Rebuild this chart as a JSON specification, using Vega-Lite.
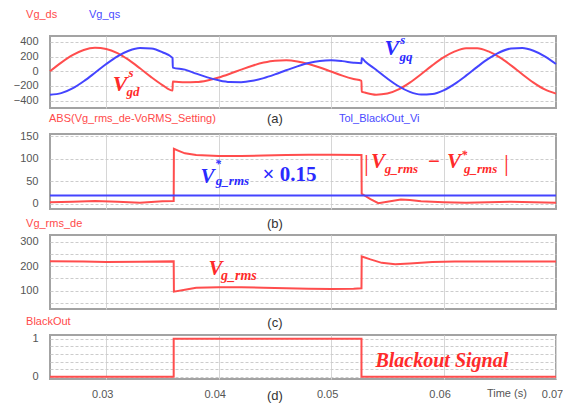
{
  "$schema": "https://vega.github.io/schema/vega-lite/v6.json",
  "background": "white",
  "padding": {"left": 12, "top": 7, "right": 5, "bottom": 5},
  "bounds": "flush",
  "spacing": 26,
  "config": {
    "view": {"stroke": "#a3a3a3", "strokeWidth": 2},
    "axis": {"labelFont": "Liberation Sans", "labelFontSize": 11, "labelColor": "#555555", "ticks": false, "domain": false},
    "axisX": {"gridColor": "#d6d6d6", "gridWidth": 1},
    "axisY": {"gridColor": "#cccccc", "gridDash": [3, 2], "gridWidth": 1, "labelPadding": 12}
  },
  "datasets": {
    "a": [
      {"t": 0.025, "ds": 0, "qs": -320}, {"t": 0.026, "ds": 118, "qs": -298}, {"t": 0.027, "ds": 219, "qs": -233},
      {"t": 0.028, "ds": 290, "qs": -136}, {"t": 0.029, "ds": 319, "qs": -20}, {"t": 0.030, "ds": 304, "qs": 99},
      {"t": 0.031, "ds": 247, "qs": 204}, {"t": 0.032, "ds": 154, "qs": 280}, {"t": 0.033, "ds": 40, "qs": 317},
      {"t": 0.034, "ds": -80, "qs": 310}, {"t": 0.035, "ds": -188, "qs": 259}, {"t": 0.0359, "ds": -263, "qs": 182},
      {"t": 0.03592, "ds": -140, "qs": 50}, {"t": 0.037, "ds": -150, "qs": 22}, {"t": 0.038, "ds": -147, "qs": -32},
      {"t": 0.039, "ds": -125, "qs": -83}, {"t": 0.040, "ds": -85, "qs": -123}, {"t": 0.041, "ds": -34, "qs": -146},
      {"t": 0.042, "ds": 22, "qs": -148}, {"t": 0.043, "ds": 75, "qs": -130}, {"t": 0.044, "ds": 118, "qs": -93},
      {"t": 0.045, "ds": 144, "qs": -43}, {"t": 0.046, "ds": 149, "qs": 13}, {"t": 0.047, "ds": 134, "qs": 67},
      {"t": 0.048, "ds": 100, "qs": 112}, {"t": 0.049, "ds": 52, "qs": 141}, {"t": 0.050, "ds": -4, "qs": 150},
      {"t": 0.051, "ds": -59, "qs": 138}, {"t": 0.052, "ds": -105, "qs": 116}, {"t": 0.0527, "ds": -130, "qs": 108},
      {"t": 0.05272, "ds": -278, "qs": 178}, {"t": 0.053, "ds": -290, "qs": 136}, {"t": 0.054, "ds": -319, "qs": 20},
      {"t": 0.055, "ds": -304, "qs": -99}, {"t": 0.056, "ds": -247, "qs": -204}, {"t": 0.057, "ds": -154, "qs": -280},
      {"t": 0.058, "ds": -40, "qs": -317}, {"t": 0.059, "ds": 80, "qs": -310}, {"t": 0.060, "ds": 188, "qs": -259},
      {"t": 0.061, "ds": 270, "qs": -171}, {"t": 0.062, "ds": 314, "qs": -60}, {"t": 0.063, "ds": 314, "qs": 60},
      {"t": 0.064, "ds": 270, "qs": 171}, {"t": 0.065, "ds": 188, "qs": 259}, {"t": 0.066, "ds": 80, "qs": 310},
      {"t": 0.067, "ds": -40, "qs": 317}, {"t": 0.068, "ds": -154, "qs": 280}, {"t": 0.069, "ds": -247, "qs": 204},
      {"t": 0.070, "ds": -304, "qs": 99}
    ],
    "b": [
      {"t": 0.025, "v": 3}, {"t": 0.027, "v": 4}, {"t": 0.029, "v": 6}, {"t": 0.031, "v": 4}, {"t": 0.033, "v": 2},
      {"t": 0.035, "v": 5}, {"t": 0.036, "v": 6}, {"t": 0.03602, "v": 122}, {"t": 0.0365, "v": 117}, {"t": 0.037, "v": 112},
      {"t": 0.038, "v": 108}, {"t": 0.040, "v": 106}, {"t": 0.042, "v": 106}, {"t": 0.044, "v": 107}, {"t": 0.046, "v": 108},
      {"t": 0.048, "v": 109}, {"t": 0.050, "v": 109}, {"t": 0.0527, "v": 108}, {"t": 0.05272, "v": 22}, {"t": 0.0535, "v": 10},
      {"t": 0.0542, "v": 1}, {"t": 0.055, "v": 4}, {"t": 0.0562, "v": 9}, {"t": 0.057, "v": 8}, {"t": 0.058, "v": 5},
      {"t": 0.060, "v": 3}, {"t": 0.062, "v": 2}, {"t": 0.064, "v": 3}, {"t": 0.066, "v": 4}, {"t": 0.068, "v": 3}, {"t": 0.070, "v": 2}
    ],
    "c": [
      {"t": 0.025, "v": 221}, {"t": 0.028, "v": 219}, {"t": 0.030, "v": 217}, {"t": 0.033, "v": 218}, {"t": 0.036, "v": 220},
      {"t": 0.03602, "v": 96}, {"t": 0.037, "v": 104}, {"t": 0.038, "v": 112}, {"t": 0.040, "v": 114}, {"t": 0.042, "v": 114},
      {"t": 0.044, "v": 112}, {"t": 0.046, "v": 110}, {"t": 0.048, "v": 108}, {"t": 0.050, "v": 107}, {"t": 0.052, "v": 108},
      {"t": 0.0527, "v": 110}, {"t": 0.05272, "v": 240}, {"t": 0.0535, "v": 228}, {"t": 0.0545, "v": 214}, {"t": 0.0557, "v": 208},
      {"t": 0.057, "v": 211}, {"t": 0.059, "v": 217}, {"t": 0.061, "v": 220}, {"t": 0.064, "v": 220}, {"t": 0.067, "v": 219}, {"t": 0.070, "v": 220}
    ],
    "d": [
      {"t": 0.025, "v": 0}, {"t": 0.036, "v": 1}, {"t": 0.0527, "v": 0}, {"t": 0.070, "v": 0}
    ]
  },
  "vconcat": [
    {
      "width": 506, "height": 72,
      "data": {"name": "a"},
      "layer": [
        {
          "mark": {"type": "line", "color": "#ff4d4d", "strokeWidth": 2, "interpolate": "monotone"},
          "encoding": {
            "x": {"field": "t", "type": "quantitative", "title": null, "scale": {"domain": [0.025, 0.07], "nice": false, "zero": false},
                  "axis": {"labels": false, "grid": true, "values": [0.03, 0.04, 0.05, 0.06], "tickCount": 20, "title": null}},
            "y": {"field": "ds", "type": "quantitative", "title": null, "scale": {"domain": [-500, 480], "nice": false, "zero": false},
                  "axis": {"values": [-400, -200, 0, 200, 400], "tickCount": 20, "format": "d", "labelOverlap": false, "grid": true, "title": null}}
          }
        },
        {
          "mark": {"type": "line", "color": "#4444ff", "strokeWidth": 2, "interpolate": "monotone"},
          "encoding": {
            "x": {"field": "t", "type": "quantitative", "title": null},
            "y": {"field": "qs", "type": "quantitative", "title": null}
          }
        },
        {"data": {"values": [{"label": "Vg_ds"}]}, "mark": {"type": "text", "align": "left", "baseline": "middle", "font": "Liberation Sans", "fontSize": 11, "color": "#ff4a4a"},
         "encoding": {"x": {"datum": 0.02287}, "y": {"datum": 766}, "text": {"field": "label"}}},
        {"data": {"values": [{"label": "Vg_qs"}]}, "mark": {"type": "text", "align": "left", "baseline": "middle", "font": "Liberation Sans", "fontSize": 11, "color": "#4a4aff"},
         "encoding": {"x": {"datum": 0.02847}, "y": {"datum": 766}, "text": {"field": "label"}}},
        {"data": {"values": [{"label": "V"}]}, "mark": {"type": "text", "align": "center", "baseline": "middle", "font": "Liberation Serif", "fontSize": 22, "fontStyle": "italic", "fontWeight": "bold", "color": "#ff2a2a"},
         "encoding": {"x": {"datum": 0.03123}, "y": {"datum": -173}, "text": {"field": "label"}}},
        {"data": {"values": [{"label": "s"}]}, "mark": {"type": "text", "align": "center", "baseline": "middle", "font": "Liberation Serif", "fontSize": 13, "fontStyle": "italic", "fontWeight": "bold", "color": "#ff2a2a"},
         "encoding": {"x": {"datum": 0.0322}, "y": {"datum": -24}, "text": {"field": "label"}}},
        {"data": {"values": [{"label": "gd"}]}, "mark": {"type": "text", "align": "center", "baseline": "middle", "font": "Liberation Serif", "fontSize": 13, "fontStyle": "italic", "fontWeight": "bold", "color": "#ff2a2a"},
         "encoding": {"x": {"datum": 0.03238}, "y": {"datum": -282}, "text": {"field": "label"}}},
        {"data": {"values": [{"label": "V"}]}, "mark": {"type": "text", "align": "center", "baseline": "middle", "font": "Liberation Serif", "fontSize": 22, "fontStyle": "italic", "fontWeight": "bold", "color": "#2a2aff"},
         "encoding": {"x": {"datum": 0.05541}, "y": {"datum": 317}, "text": {"field": "label"}}},
        {"data": {"values": [{"label": "s"}]}, "mark": {"type": "text", "align": "center", "baseline": "middle", "font": "Liberation Serif", "fontSize": 13, "fontStyle": "italic", "fontWeight": "bold", "color": "#2a2aff"},
         "encoding": {"x": {"datum": 0.05638}, "y": {"datum": 426}, "text": {"field": "label"}}},
        {"data": {"values": [{"label": "gq"}]}, "mark": {"type": "text", "align": "center", "baseline": "middle", "font": "Liberation Serif", "fontSize": 13, "fontStyle": "italic", "fontWeight": "bold", "color": "#2a2aff"},
         "encoding": {"x": {"datum": 0.05665}, "y": {"datum": 194}, "text": {"field": "label"}}}
      ]
    },
    {
      "width": 506, "height": 75,
      "data": {"name": "b"},
      "layer": [
        {
          "mark": {"type": "line", "color": "#ff4d4d", "strokeWidth": 2},
          "encoding": {
            "x": {"field": "t", "type": "quantitative", "title": null, "scale": {"domain": [0.025, 0.07], "nice": false, "zero": false},
                  "axis": {"labels": false, "grid": true, "values": [0.03, 0.04, 0.05, 0.06], "tickCount": 20, "title": null}},
            "y": {"field": "v", "type": "quantitative", "title": null, "scale": {"domain": [-12, 155], "nice": false, "zero": false},
                  "axis": {"values": [0, 50, 100, 150], "tickCount": 20, "format": "d", "labelOverlap": false, "grid": true, "title": null}}
          }
        },
        {"data": {"values": [{"tol": 18}]}, "mark": {"type": "rule", "color": "#4444ff", "strokeWidth": 2},
         "encoding": {"y": {"field": "tol", "type": "quantitative", "title": null}}},
        {"data": {"values": [{"label": "ABS(Vg_rms_de-VoRMS_Setting)"}]}, "mark": {"type": "text", "align": "left", "baseline": "middle", "font": "Liberation Sans", "fontSize": 11, "color": "#ff4a4a"},
         "encoding": {"x": {"datum": 0.02491}, "y": {"datum": 188.4}, "text": {"field": "label"}}},
        {"data": {"values": [{"label": "(a)"}]}, "mark": {"type": "text", "align": "center", "baseline": "middle", "font": "Liberation Sans", "fontSize": 13, "color": "#333333"},
         "encoding": {"x": {"datum": 0.04500}, "y": {"datum": 188.4}, "text": {"field": "label"}}},
        {"data": {"values": [{"label": "Tol_BlackOut_Vi"}]}, "mark": {"type": "text", "align": "left", "baseline": "middle", "font": "Liberation Sans", "fontSize": 11, "color": "#4a4aff"},
         "encoding": {"x": {"datum": 0.0507}, "y": {"datum": 188.4}, "text": {"field": "label"}}},
        {"data": {"values": [{"label": "V"}]}, "mark": {"type": "text", "align": "center", "baseline": "middle", "font": "Liberation Serif", "fontSize": 21, "fontStyle": "italic", "fontWeight": "bold", "color": "#2a2aff"},
         "encoding": {"x": {"datum": 0.03900}, "y": {"datum": 59}, "text": {"field": "label"}}},
        {"data": {"values": [{"label": "*"}]}, "mark": {"type": "text", "align": "center", "baseline": "middle", "font": "Liberation Serif", "fontSize": 12, "fontStyle": "italic", "fontWeight": "bold", "color": "#2a2aff"},
         "encoding": {"x": {"datum": 0.03995}, "y": {"datum": 88}, "text": {"field": "label"}}},
        {"data": {"values": [{"label": "g_rms"}]}, "mark": {"type": "text", "align": "left", "baseline": "middle", "font": "Liberation Serif", "fontSize": 13, "fontStyle": "italic", "fontWeight": "bold", "color": "#2a2aff"},
         "encoding": {"x": {"datum": 0.03975}, "y": {"datum": 50}, "text": {"field": "label"}}},
        {"data": {"values": [{"label": "× 0.15"}]}, "mark": {"type": "text", "align": "center", "baseline": "middle", "font": "Liberation Serif", "fontSize": 21, "fontWeight": "bold", "color": "#2a2aff"},
         "encoding": {"x": {"datum": 0.04630}, "y": {"datum": 64}, "text": {"field": "label"}}},
        {"data": {"values": [{"label": "|"}]}, "mark": {"type": "text", "align": "center", "baseline": "middle", "font": "Liberation Serif", "fontSize": 24, "color": "#ff2a2a"},
         "encoding": {"x": {"datum": 0.05314}, "y": {"datum": 88}, "text": {"field": "label"}}},
        {"data": {"values": [{"label": "V"}]}, "mark": {"type": "text", "align": "center", "baseline": "middle", "font": "Liberation Serif", "fontSize": 21, "fontStyle": "italic", "fontWeight": "bold", "color": "#ff2a2a"},
         "encoding": {"x": {"datum": 0.05416}, "y": {"datum": 92}, "text": {"field": "label"}}},
        {"data": {"values": [{"label": "g_rms"}]}, "mark": {"type": "text", "align": "left", "baseline": "middle", "font": "Liberation Serif", "fontSize": 13, "fontStyle": "italic", "fontWeight": "bold", "color": "#ff2a2a"},
         "encoding": {"x": {"datum": 0.05478}, "y": {"datum": 77}, "text": {"field": "label"}}},
        {"data": {"values": [{"label": "−"}]}, "mark": {"type": "text", "align": "center", "baseline": "middle", "font": "Liberation Serif", "fontSize": 21, "fontWeight": "bold", "color": "#ff2a2a"},
         "encoding": {"x": {"datum": 0.05914}, "y": {"datum": 92}, "text": {"field": "label"}}},
        {"data": {"values": [{"label": "V"}]}, "mark": {"type": "text", "align": "center", "baseline": "middle", "font": "Liberation Serif", "fontSize": 21, "fontStyle": "italic", "fontWeight": "bold", "color": "#ff2a2a"},
         "encoding": {"x": {"datum": 0.06093}, "y": {"datum": 92}, "text": {"field": "label"}}},
        {"data": {"values": [{"label": "*"}]}, "mark": {"type": "text", "align": "center", "baseline": "middle", "font": "Liberation Serif", "fontSize": 12, "fontStyle": "italic", "fontWeight": "bold", "color": "#ff2a2a"},
         "encoding": {"x": {"datum": 0.06185}, "y": {"datum": 108}, "text": {"field": "label"}}},
        {"data": {"values": [{"label": "g_rms"}]}, "mark": {"type": "text", "align": "left", "baseline": "middle", "font": "Liberation Serif", "fontSize": 13, "fontStyle": "italic", "fontWeight": "bold", "color": "#ff2a2a"},
         "encoding": {"x": {"datum": 0.06182}, "y": {"datum": 77}, "text": {"field": "label"}}},
        {"data": {"values": [{"label": "|"}]}, "mark": {"type": "text", "align": "center", "baseline": "middle", "font": "Liberation Serif", "fontSize": 24, "color": "#ff2a2a"},
         "encoding": {"x": {"datum": 0.0656}, "y": {"datum": 88}, "text": {"field": "label"}}}
      ]
    },
    {
      "width": 506, "height": 74,
      "data": {"name": "c"},
      "layer": [
        {
          "mark": {"type": "line", "color": "#ff4d4d", "strokeWidth": 2},
          "encoding": {
            "x": {"field": "t", "type": "quantitative", "title": null, "scale": {"domain": [0.025, 0.07], "nice": false, "zero": false},
                  "axis": {"labels": false, "grid": true, "values": [0.03, 0.04, 0.05, 0.06], "tickCount": 20, "title": null}},
            "y": {"field": "v", "type": "quantitative", "title": null, "scale": {"domain": [25, 328], "nice": false, "zero": false},
                  "axis": {"values": [50, 100, 150, 200, 250, 300], "tickCount": 20, "labelOverlap": false, "labelExpr": "datum.value % 100 === 0 ? format(datum.value, 'd') : ''", "grid": true, "title": null}}
          }
        },
        {"data": {"values": [{"label": "Vg_rms_de"}]}, "mark": {"type": "text", "align": "left", "baseline": "middle", "font": "Liberation Sans", "fontSize": 11, "color": "#ff4a4a"},
         "encoding": {"x": {"datum": 0.02287}, "y": {"datum": 373}, "text": {"field": "label"}}},
        {"data": {"values": [{"label": "(b)"}]}, "mark": {"type": "text", "align": "center", "baseline": "middle", "font": "Liberation Sans", "fontSize": 13, "color": "#333333"},
         "encoding": {"x": {"datum": 0.04500}, "y": {"datum": 373}, "text": {"field": "label"}}},
        {"data": {"values": [{"label": "V"}]}, "mark": {"type": "text", "align": "center", "baseline": "middle", "font": "Liberation Serif", "fontSize": 21, "fontStyle": "italic", "fontWeight": "bold", "color": "#ff2a2a"},
         "encoding": {"x": {"datum": 0.03972}, "y": {"datum": 189}, "text": {"field": "label"}}},
        {"data": {"values": [{"label": "g_rms"}]}, "mark": {"type": "text", "align": "left", "baseline": "middle", "font": "Liberation Serif", "fontSize": 14, "fontStyle": "italic", "fontWeight": "bold", "color": "#ff2a2a"},
         "encoding": {"x": {"datum": 0.04021}, "y": {"datum": 162}, "text": {"field": "label"}}}
      ]
    },
    {
      "width": 506, "height": 44,
      "data": {"name": "d"},
      "layer": [
        {
          "mark": {"type": "line", "color": "#ff4d4d", "strokeWidth": 2, "interpolate": "step-after"},
          "encoding": {
            "x": {"field": "t", "type": "quantitative", "title": null, "scale": {"domain": [0.025, 0.07], "nice": false, "zero": false},
                  "axis": {"grid": true, "values": [0.03, 0.04, 0.05, 0.06, 0.07], "tickCount": 20, "format": ".2f", "labelOverlap": false, "labelFlush": false, "labelPadding": 9, "labelOffset": -4, "title": null}},
            "y": {"field": "v", "type": "quantitative", "title": null, "scale": {"domain": [-0.06, 1.1], "nice": false, "zero": false},
                  "axis": {"values": [0, 0.2, 0.4, 0.6, 0.8, 1], "tickCount": 20, "labelOverlap": false, "labelExpr": "datum.value === 0 ? '0' : (datum.value === 1 ? '1' : '')", "grid": true, "title": null}}
          }
        },
        {"data": {"values": [{"label": "BlackOut"}]}, "mark": {"type": "text", "align": "left", "baseline": "middle", "font": "Liberation Sans", "fontSize": 11, "color": "#ff4a4a"},
         "encoding": {"x": {"datum": 0.02287}, "y": {"datum": 1.443}, "text": {"field": "label"}}},
        {"data": {"values": [{"label": "(c)"}]}, "mark": {"type": "text", "align": "center", "baseline": "middle", "font": "Liberation Sans", "fontSize": 13, "color": "#333333"},
         "encoding": {"x": {"datum": 0.04500}, "y": {"datum": 1.416}, "text": {"field": "label"}}},
        {"data": {"values": [{"label": "Blackout Signal"}]}, "mark": {"type": "text", "align": "center", "baseline": "middle", "font": "Liberation Serif", "fontSize": 20, "fontStyle": "italic", "fontWeight": "bold", "color": "#ff2a2a"},
         "encoding": {"x": {"datum": 0.05985}, "y": {"datum": 0.415}, "text": {"field": "label"}}},
        {"data": {"values": [{"label": "Time (s)"}]}, "mark": {"type": "text", "align": "center", "baseline": "middle", "font": "Liberation Sans", "fontSize": 11, "color": "#555555"},
         "encoding": {"x": {"datum": 0.06563}, "y": {"datum": -0.455}, "text": {"field": "label"}}},
        {"data": {"values": [{"label": "(d)"}]}, "mark": {"type": "text", "align": "center", "baseline": "middle", "font": "Liberation Sans", "fontSize": 13, "color": "#333333"},
         "encoding": {"x": {"datum": 0.04500}, "y": {"datum": -0.508}, "text": {"field": "label"}}}
      ]
    }
  ]
}
